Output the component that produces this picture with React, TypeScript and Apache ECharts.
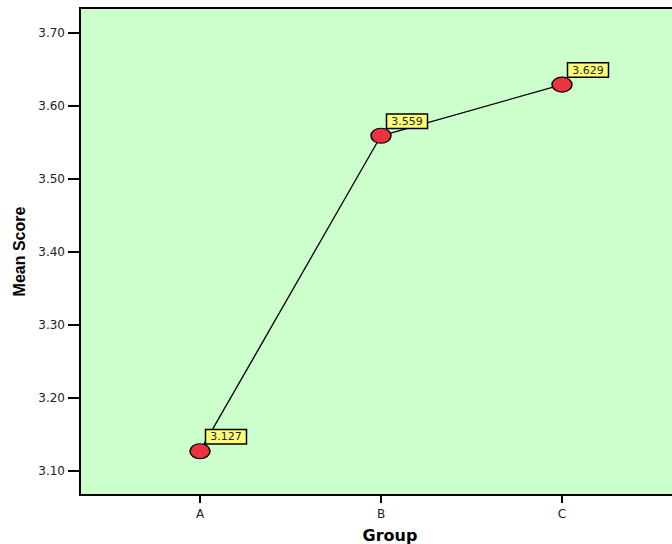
import React, { useEffect, useRef } from "react";
import * as echarts from "echarts";

const categories = ["A", "B", "C"];
const meanScores = [3.127, 3.559, 3.629];
const yTicks = [3.1, 3.2, 3.3, 3.4, 3.5, 3.6, 3.7];

export default function App() {
  const ref = useRef<HTMLDivElement>(null);
  useEffect(() => {
    const chart = echarts.init(ref.current!, null, { renderer: "svg" });
    const xIdx = categories.map((_, i) => i);
    chart.setOption({
      animation: false,
      grid: {
        left: 80, top: 8, width: 620, height: 487, show: true,
        backgroundColor: "#ccffcc", borderColor: "#000", borderWidth: 2,
        outerBoundsMode: "none", containLabel: false,
      },
      xAxis: {
        type: "value",
        min: -0.663,
        max: -0.663 + 620 / 181,
        name: "Group",
        nameLocation: "middle",
        nameGap: 32,
        nameTextStyle: { fontFamily: "DejaVu Sans", fontWeight: "bold", fontSize: 16, color: "#000" },
        axisLine: { show: false, onZero: false },
        splitLine: { show: false },
        axisTick: { show: true, length: 8, customValues: xIdx, lineStyle: { color: "#000", width: 2 } },
        axisLabel: {
          customValues: xIdx,
          formatter: (v: number) => categories[Math.round(v)] ?? "",
          fontFamily: "DejaVu Sans",
          fontSize: 12,
          color: "#222",
          margin: 13,
        },
      },
      yAxis: {
        type: "value",
        min: 3.067,
        max: 3.734,
        name: "Mean Score",
        nameLocation: "middle",
        nameGap: 52,
        nameTextStyle: { fontFamily: "Liberation Sans", fontWeight: "bold", fontSize: 16, color: "#000" },
        axisLine: { show: false, onZero: false },
        splitLine: { show: false },
        axisTick: { show: true, length: 12, customValues: yTicks, lineStyle: { color: "#000", width: 2 } },
        axisLabel: {
          customValues: yTicks,
          formatter: (v: number) => v.toFixed(2),
          fontFamily: "DejaVu Sans",
          fontSize: 12,
          color: "#222",
          margin: 15,
        },
      },
      series: [
        {
          type: "line",
          data: meanScores.map((v, i) => [i, v]),
          lineStyle: { color: "#000", width: 1.3 },
          symbol: "path://M0,10 A10,10 0 1,1 20,10 A10,10 0 1,1 0,10 Z",
          symbolKeepAspect: false,
          symbolSize: [20, 15],
          itemStyle: { color: "#ee3340", borderColor: "#000", borderWidth: 1.3 },
          label: {
            show: true,
            position: [17, -13],
            formatter: (p: any) => p.value[1].toFixed(3),
            fontFamily: "DejaVu Sans",
            fontSize: 11,
            color: "#222",
            backgroundColor: "#ffff77",
            borderColor: "#000",
            borderWidth: 1.5,
            padding: [1, 4, 1, 4],
          },
          z: 3,
        },
      ],
    });
    return () => chart.dispose();
  }, []);
  return <div ref={ref} style={{ width: 672, height: 544, position: "absolute", left: 0, top: 0 }} />;
}
